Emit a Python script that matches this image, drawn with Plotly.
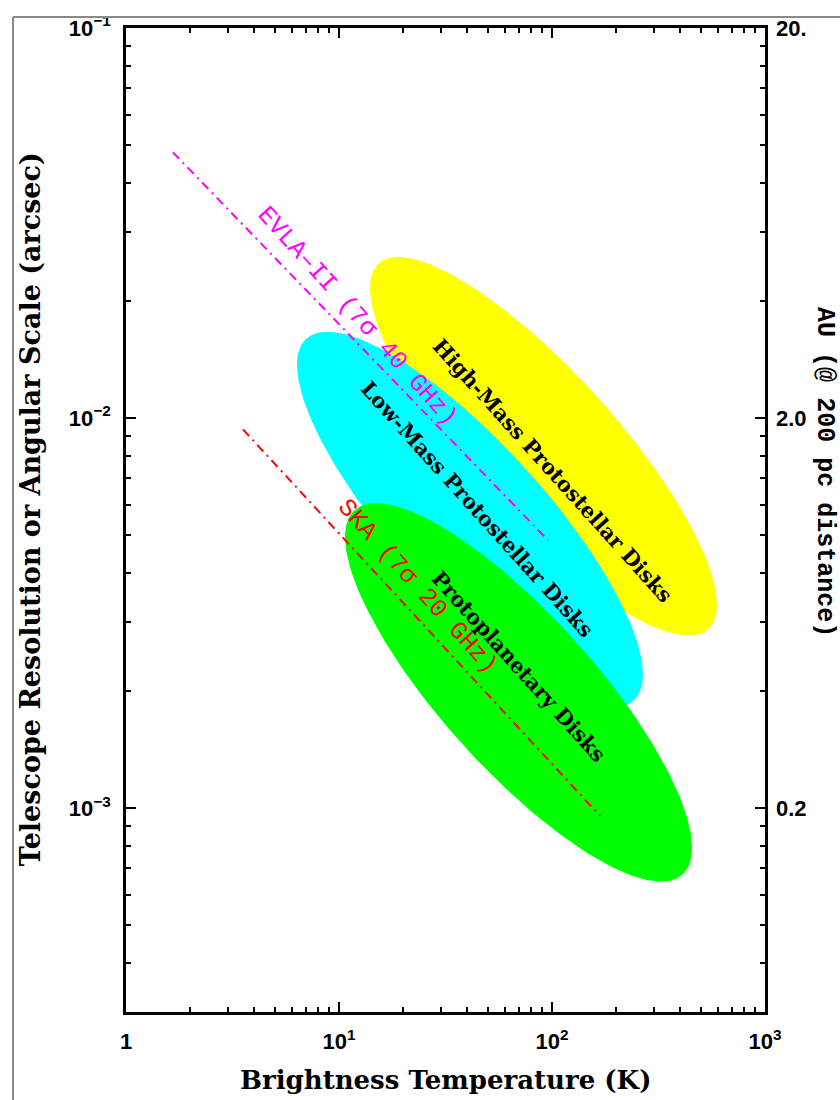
import numpy as np
import plotly.graph_objects as go

# Disk populations: brightness-temperature span, angular-scale span and the
# angular scale reached at the hottest end of each population.
regions = ["High-Mass Protostellar Disks", "Low-Mass Protostellar Disks", "Protoplanetary Disks"]
region_colors = ["#ffff00", "#00ffff", "#00ff00"]
tb_min = [13.98, 6.35, 10.67]
tb_max = [595.0, 267.4, 454.5]
theta_top = [0.02586, 0.01664, 0.006050]
theta_bottom = [0.002769, 0.001813, 0.000648]
theta_at_tb_max = [0.003322, 0.002202, 0.000791]
# label anchor (temperature K, scale arcsec) for each population
region_label_tb = [101.0, 44.9, 70.0]
region_label_theta = [0.00735, 0.00584, 0.002307]

# 7-sigma brightness sensitivity limits of the two arrays
instruments = ["EVLA\u2013II (7\u03c3 40 GHz)", "SKA (7\u03c3 20 GHz)"]
instrument_colors = ["#ff00ff", "#ff0000"]
limit_tb = [[1.66, 95.8], [3.54, 168.0]]
limit_theta = [[0.048, 0.00486], [0.00935, 0.000955]]
instrument_label_tb = [12.2, 23.3]
instrument_label_theta = [0.01825, 0.00370]

# axis ticks
x_ticks = [1, 10, 100, 1000]
x_ticktext = ["1", "10<sup>1</sup>", "10<sup>2</sup>", "10<sup>3</sup>"]
y_ticks = [1e-3, 1e-2, 1e-1]
y_ticktext = ["10<sup>\u22123</sup>", "10<sup>\u22122</sup>", "10<sup>\u22121</sup>"]
au_per_arcsec = 200.0  # at 200 pc
au_ticks = [0.2, 2.0, 20.0]
au_ticktext = ["0.2", "2.0", "20."]

x_range = [1, 1000]
y_range = [3e-4, 0.1]


def minor_vals(lo_exp, hi_exp):
    return [m * 10.0 ** e for e in range(lo_exp, hi_exp) for m in range(2, 10)]


def ellipse(t_lo, t_hi, th_lo, th_hi, th_at_hi, n=240):
    # ellipse in log-log space from its bounding box and the point of max temperature
    lx0, lx1 = np.log10(t_lo), np.log10(t_hi)
    ly0, ly1 = np.log10(th_lo), np.log10(th_hi)
    cx, hx = (lx0 + lx1) / 2, (lx1 - lx0) / 2
    cy, hy = (ly0 + ly1) / 2, (ly1 - ly0) / 2
    py = np.log10(th_at_hi) - cy
    q = np.sqrt(max(hy ** 2 - py ** 2, 0.0))
    t = np.linspace(0, 2 * np.pi, n)
    lx = cx + hx * np.cos(t)
    ly = cy + py * np.cos(t) + q * np.sin(t)
    return 10 ** lx, 10 ** ly


fig = go.Figure()

for i, name in enumerate(regions):
    ex, ey = ellipse(tb_min[i], tb_max[i], theta_bottom[i], theta_top[i], theta_at_tb_max[i])
    fig.add_trace(go.Scatter(
        x=ex, y=ey, mode="lines", fill="toself", fillcolor=region_colors[i],
        line=dict(width=0, color=region_colors[i]), name=name, hoverinfo="skip",
    ))

for i, name in enumerate(instruments):
    fig.add_trace(go.Scatter(
        x=limit_tb[i], y=limit_theta[i], mode="lines", name=name,
        line=dict(color=instrument_colors[i], width=2, dash="9px,5px,2px,5px"),
    ))

# hidden trace carrying the AU scale on the right-hand axis
fig.add_trace(go.Scatter(
    x=x_range, y=[v * au_per_arcsec for v in y_range], yaxis="y2",
    mode="lines", line=dict(width=0), opacity=0, hoverinfo="skip", showlegend=False,
))

annotations = []
for i, name in enumerate(regions):
    annotations.append(dict(
        x=np.log10(region_label_tb[i]), y=np.log10(region_label_theta[i]),
        xref="x", yref="y", text=name, showarrow=False, textangle=48,
        font=dict(family="DejaVu Serif", size=21, color="black", weight="bold"),
        xanchor="center", yanchor="middle",
    ))
for i, name in enumerate(instruments):
    annotations.append(dict(
        x=np.log10(instrument_label_tb[i]), y=np.log10(instrument_label_theta[i]),
        xref="x", yref="y", text=name, showarrow=False, textangle=48,
        font=dict(family="Liberation Mono", size=25, color=instrument_colors[i]),
        xanchor="center", yanchor="middle",
    ))

title_font = dict(family="DejaVu Serif", size=26, color="black", weight="bold")
annotations += [
    dict(text="Brightness Temperature (K)", x=0.5, y=-0.0688, xref="paper", yref="paper",
         showarrow=False, xanchor="center", yanchor="middle", font=title_font),
    dict(text="Telescope Resolution or Angular Scale (arcsec)", x=-0.150, y=0.511,
         xref="paper", yref="paper", showarrow=False, textangle=-90,
         xanchor="center", yanchor="middle",
         font=dict(family="DejaVu Serif", size=27, color="black", weight="bold")),
    dict(text="AU (@ 200 pc distance)", x=1.094, y=0.5486, xref="paper", yref="paper",
         showarrow=False, textangle=90, xanchor="center", yanchor="middle",
         font=dict(family="Liberation Mono", size=25, color="black", weight="bold")),
]

tick_font = dict(family="Liberation Sans", size=22, color="black", weight="bold")
axis_common = dict(
    type="log", showgrid=False, zeroline=False, showline=True, linecolor="black",
    linewidth=2.5, ticks="inside", ticklen=10, tickwidth=2, tickcolor="black",
    tickfont=tick_font, ticklabelstandoff=8,
)

fig.update_layout(
    width=840, height=1100,
    margin=dict(l=126, r=75, t=24, b=88),
    paper_bgcolor="white", plot_bgcolor="white",
    showlegend=False,
    xaxis=dict(
        **axis_common, range=[np.log10(x_range[0]), np.log10(x_range[1])],
        tickmode="array", tickvals=x_ticks, ticktext=x_ticktext, mirror="ticks",
        minor=dict(tickmode="array", tickvals=minor_vals(0, 3), ticks="inside",
                   ticklen=5, tickwidth=1.5, tickcolor="black", showgrid=False),
    ),
    yaxis=dict(
        **axis_common, range=[np.log10(y_range[0]), np.log10(y_range[1])],
        tickmode="array", tickvals=y_ticks, ticktext=y_ticktext, mirror="ticks",
        minor=dict(tickmode="array", tickvals=minor_vals(-4, -1), ticks="inside",
                   ticklen=5, tickwidth=1.5, tickcolor="black", showgrid=False),
    ),
    yaxis2=dict(
        type="log", overlaying="y", side="right", anchor="x", showgrid=False,
        zeroline=False, showline=False, ticks="",
        range=[np.log10(y_range[0] * au_per_arcsec), np.log10(y_range[1] * au_per_arcsec)],
        tickmode="array", tickvals=au_ticks, ticktext=au_ticktext,
        tickfont=tick_font, ticklabelstandoff=10,
    ),
    annotations=annotations,
    shapes=[
        dict(type="line", xref="paper", yref="paper", x0=-0.1768, x1=-0.1768,
             y0=1.0111, y1=-0.2, line=dict(color="#888888", width=2)),
        dict(type="line", xref="paper", yref="paper", x0=-0.1768, x1=1.2,
             y0=1.0111, y1=1.0111, line=dict(color="#888888", width=2)),
    ],
)

fig.write_html("out.html")
